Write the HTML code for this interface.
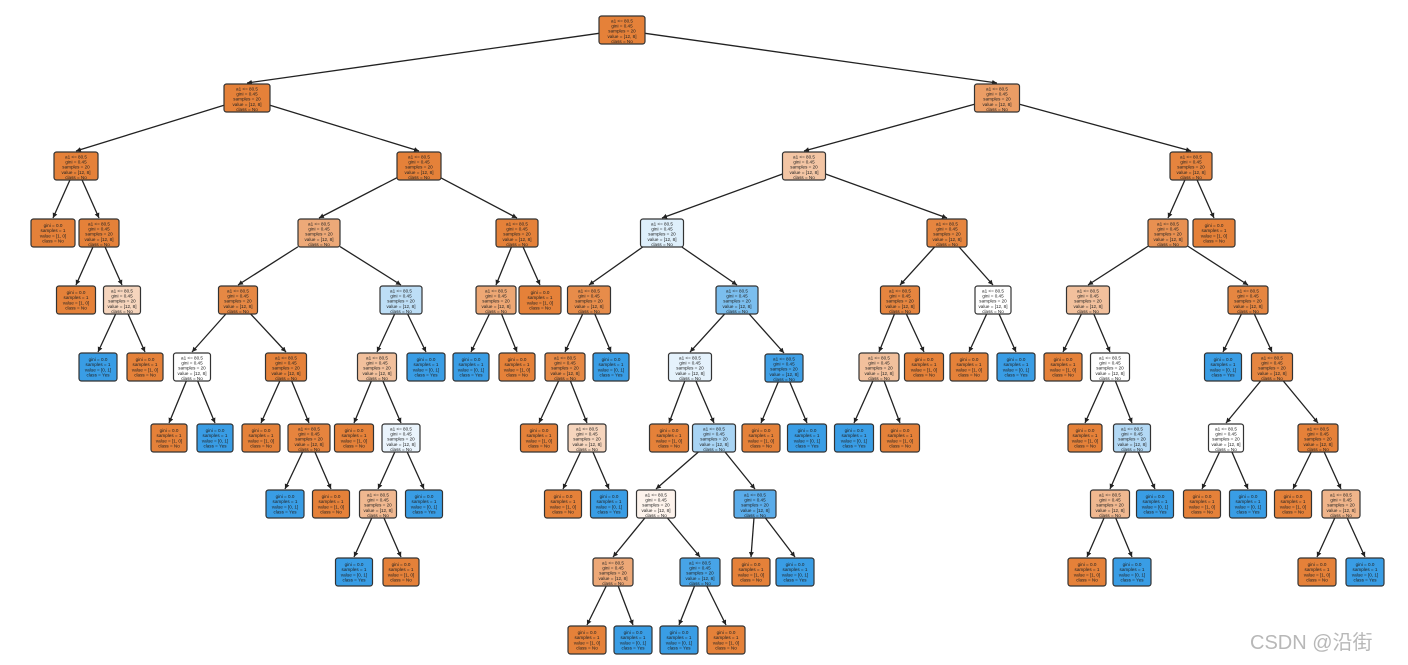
<!DOCTYPE html>
<html><head><meta charset="utf-8"><style>
html,body{margin:0;padding:0;background:#fff;width:1408px;height:665px;overflow:hidden}
svg{display:block}
.wm{position:absolute;left:1250px;top:626px;font:20px "Liberation Sans","Noto Sans CJK SC",sans-serif;color:#b8b8b8}
</style></head><body>
<svg id="s" width="1408" height="665" xmlns="http://www.w3.org/2000/svg">
<defs><marker id="ah" markerWidth="6" markerHeight="6" refX="5" refY="3" orient="auto" markerUnits="userSpaceOnUse"><path d="M0,0.5 L5,3 L0,5.5 z" fill="#222"/></marker></defs>
<g id="e"></g><g id="n"></g>
</svg>
<div class="wm">CSDN @沿街</div>
<script>
var O='#e58139',B='#399de5';
var N=[
[0,-1,622,16,46,O,0],
[1,0,247,84,46,O,0],[2,0,997,84,45,'#eb9d65',0],
[3,1,76,152,44,O,0],[4,1,419,152,44,O,0],[5,2,804,152,43,'#f3c5a4',0],[6,2,1191,152,42,'#e6843e',0],
[7,3,53,219,44,O,1],[8,3,99,219,40,O,0],[9,4,319,219,42,'#eda978',0],[10,4,517,219,42,O,0],
[11,5,662,219,43,'#deeffb',0],[12,5,947,219,40,'#e6853f',0],[13,6,1168,219,40,'#e89051',0],[14,6,1214,219,42,O,1],
[15,8,76,286,39,O,1],[16,8,122,286,37,'#f6d5bd',0],[17,9,238,286,39,'#e68844',0],[18,9,401,286,42,'#bddef6',0],
[19,10,496,286,40,'#eda774',0],[20,10,540,286,42,O,1],[21,11,589,286,43,'#e78c4a',0],[22,11,737,286,42,'#7bbeee',0],
[23,12,900,286,39,'#e6853f',0],[24,12,993,286,36,'#ffffff',0],[25,13,1088,286,43,'#f2c09c',0],[26,13,1248,286,40,'#e68641',0],
[27,16,98,353,38,B,1],[28,16,145,353,36,O,1],[29,17,192,353,37,'#ffffff',0],[30,17,286,353,41,'#e58139',0],
[31,18,377,353,39,'#f2c09c',0],[32,18,426,353,38,B,1],[33,19,471,353,36,B,1],[34,19,517,353,36,O,1],
[35,21,565,353,40,'#e68844',0],[36,21,611,353,36,B,1],[37,22,690,353,43,'#e5f2fc',0],[38,22,784,354,38,'#3e9fe6',0],
[39,23,879,353,40,'#f2c09c',0],[40,23,924,353,39,O,1],[41,24,969,353,38,O,1],[42,24,1016,353,38,B,1],
[43,25,1063,353,38,O,1],[44,25,1110,353,39,'#ffffff',0],[45,26,1223,353,37,B,1],[46,26,1272,353,41,'#e68641',0],
[47,29,169,424,36,O,1],[48,29,215,424,36,B,1],[49,30,261,424,38,O,1],[50,30,309,424,42,'#e6843e',0],
[51,31,354,424,39,O,1],[52,31,401,424,38,'#eaf4fc',0],[53,35,539,424,37,O,1],[54,35,587,424,38,'#f6d5bd',0],
[55,37,669,424,39,O,1],[56,37,714,424,43,'#a8d4f4',0],[57,38,761,424,38,O,1],[58,38,807,424,39,B,1],
[59,39,854,424,39,B,1],[60,39,900,424,39,O,1],[61,44,1085,424,34,O,1],[62,44,1132,424,37,'#b3d9f5',0],
[63,46,1226,424,35,'#ffffff',0],[64,46,1318,424,40,O,0],
[65,50,285,490,38,B,1],[66,50,331,490,37,O,1],[67,52,378,490,37,'#f0b890',0],[68,52,424,490,37,B,1],
[69,54,563,490,37,O,1],[70,54,609,490,37,B,1],[71,56,656,490,39,'#fdf3ec',0],[72,56,755,490,42,'#5aacea',0],
[73,62,1110,490,39,'#f0b890',0],[74,62,1155,490,37,B,1],[75,63,1202,490,37,O,1],[76,63,1248,490,37,B,1],
[77,64,1293,490,37,O,1],[78,64,1341,490,38,'#efb48a',0],
[79,67,354,558,37,B,1],[80,67,401,558,36,O,1],[81,71,613,558,40,'#eda877',0],[82,71,700,558,40,'#47a4e7',0],
[83,72,751,558,38,O,1],[84,72,795,558,38,B,1],[85,73,1087,558,38,O,1],[86,73,1132,558,38,B,1],
[87,78,1317,558,38,O,1],[88,78,1365,558,38,B,1],
[89,81,587,626,38,O,1],[90,81,633,626,38,B,1],[91,82,679,626,38,B,1],[92,82,726,626,38,O,1]
];
var H=28,ns='http://www.w3.org/2000/svg',E=document.getElementById('e'),G=document.getElementById('n');
var M={};N.forEach(function(d){M[d[0]]=d;});
function el(t,a,p){var x=document.createElementNS(ns,t);for(var k in a)x.setAttribute(k,a[k]);p.appendChild(x);return x;}
N.forEach(function(d){
 if(d[1]<0)return;var p=M[d[1]];
 var px=p[2],py=p[3]+H/2,tx=d[2],ty=d[3];
 var dx=tx-px,dy=ty-py,hw=p[4]/2,hh=H/2;
 var t=Math.min(Math.abs(hw/dx||1e9),Math.abs(hh/dy));
 var sx=px+dx*t,sy=py+dy*t;
 el('line',{x1:sx,y1:sy,x2:tx,y2:ty-1,stroke:'#222','stroke-width':1.3,'marker-end':'url(#ah)'},E);
});
N.forEach(function(d){
 var x=d[2]-d[4]/2,y=d[3],lf=d[6];
 el('rect',{x:x,y:y,width:d[4],height:H,rx:2.5,fill:d[5],stroke:'#333','stroke-width':1.2},G);
 var blue=d[5]==B;
 var L=lf?['gini = 0.0','samples = 1',blue?'value = [0, 1]':'value = [1, 0]',blue?'class = Yes':'class = No']
        :['a1 <= 80.5','gini = 0.45','samples = 20','value = [12, 8]','class = No'];
 var y0=lf?y+8:y+6.5,step=lf?5.2:5.1;
 L.forEach(function(s,i){var t=el('text',{x:d[2],y:y0+i*step,'text-anchor':'middle','font-size':'4.6','font-family':'Liberation Sans, sans-serif',fill:'#222'},G);t.textContent=s;});
});
</script>
</body></html>
